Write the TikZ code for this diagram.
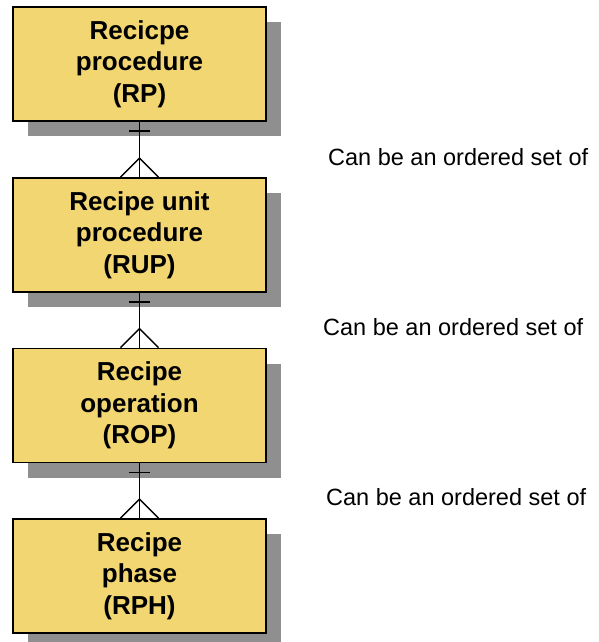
\documentclass[tikz,border=0pt]{standalone}
\usepackage{fontspec}
\setmainfont{Liberation Sans}
\usetikzlibrary{shadows,calc}
\definecolor{boxfill}{HTML}{F2D671}
\definecolor{shadowgray}{HTML}{8F8F8F}
\tikzset{
  entity/.style={draw=black, line width=1.8pt, fill=boxfill,
    minimum width=253pt, minimum height=114pt, inner sep=0pt,
    align=center, font=\fontsize{26}{31.5}\selectfont\bfseries,
    general shadow={fill=shadowgray, shadow xshift=15pt, shadow yshift=-15pt}},
  relation/.style={line width=1.4pt, draw=black},
  note/.style={anchor=base west, inner sep=0pt, font=\fontsize{23.5}{28}\selectfont}
}
\begin{document}
\begin{tikzpicture}[x=1pt, y=-1pt]
  \useasboundingbox (0,0) rectangle (598,642);
  % hierarchy of recipe elements
  \node[entity] (rp)  at (139.5,64)    {Recicpe\\procedure\\(RP)};
  \node[entity] (rup) at (139.5,235)   {Recipe unit\\procedure\\(RUP)};
  \node[entity] (rop) at (139.5,405.5) {Recipe\\operation\\(ROP)};
  \node[entity] (rph) at (139.5,576)   {Recipe\\phase\\(RPH)};
  % one-to-many relations: bar at the parent, crow's foot at the child
  \foreach \p/\c in {rp/rup, rup/rop, rop/rph} {
    \draw[relation] (\p.south) -- (\c.north);
    \draw[relation] ($(\p.south)+(-10.5,9)$) -- ($(\p.south)+(10.5,9)$);
    \draw[relation] ($(\c.north)+(-19,0)$) -- ($(\c.north)+(0,-19)$) -- ($(\c.north)+(19,0)$);
  }
  % relation descriptions
  \node[note] (n1) at (328,165) {Can be an ordered set of};
  \node[note] (n2) at (323,335) {Can be an ordered set of};
  \node[note] (n3) at (326,505) {Can be an ordered set of};
\end{tikzpicture}
\end{document}
